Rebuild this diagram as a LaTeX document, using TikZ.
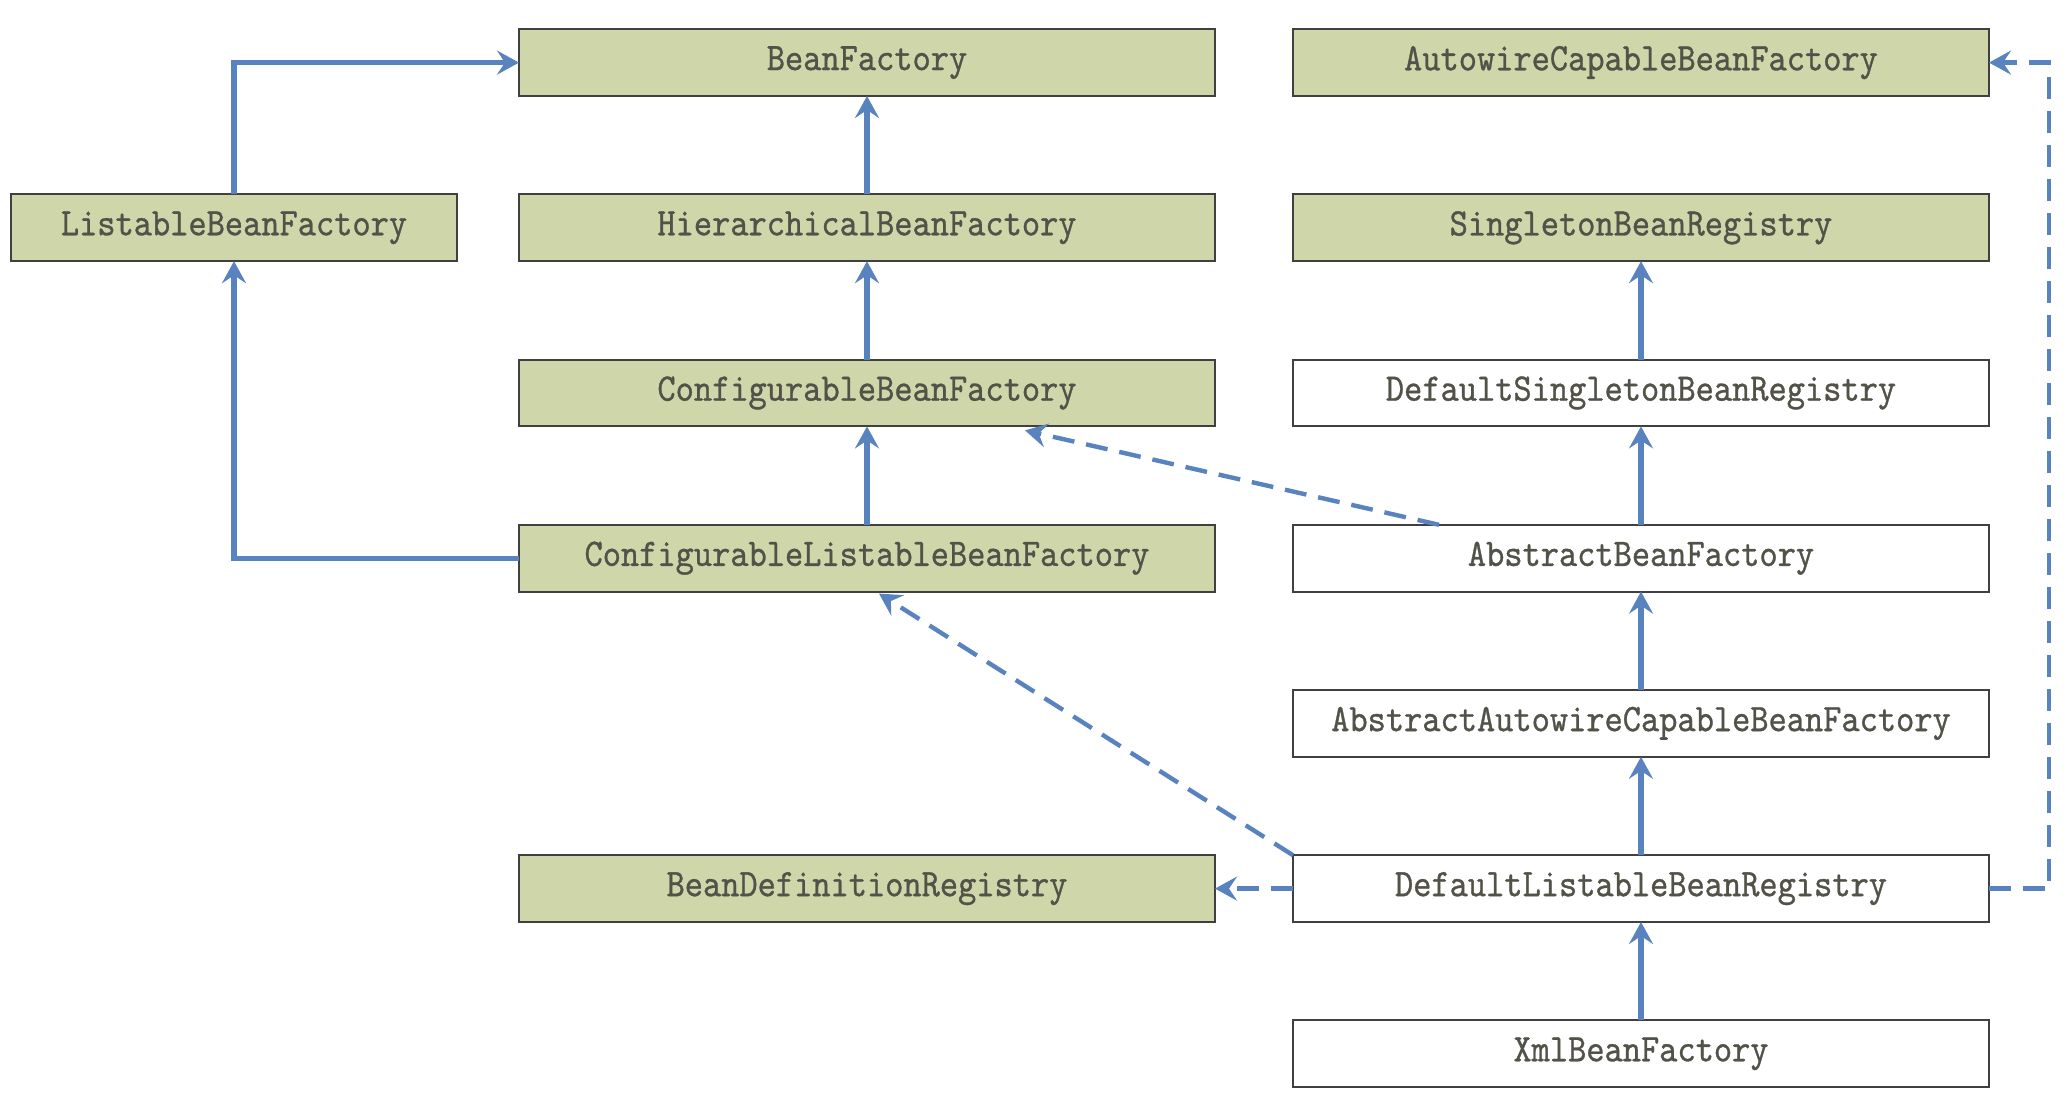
\documentclass[tikz,border=0pt]{standalone}
\usepackage{fontspec}
\usepackage{xcolor}
\usepackage{tikz}
\usetikzlibrary{positioning, arrows.meta, calc}

\newfontfamily\classfont{lmmono10-regular.otf}[FakeStretch=0.89,FakeBold=0.8]
\definecolor{ifacegreen}{RGB}{206,214,170}
\definecolor{linkblue}{RGB}{88,131,190}
\definecolor{labelgray}{RGB}{82,82,72}

\begin{document}
\begin{tikzpicture}[
        node distance=49.2pt,
        iface/.style={
            rectangle,
            draw=black!75,
            line width=1pt,
            fill=ifacegreen,
            text=labelgray,
            font=\classfont\fontsize{19.5}{22}\selectfont,
            minimum width=348pt,
            minimum height=33.4pt,
            inner sep=0pt,
            outer sep=0pt
        },
        klass/.style={
            iface,
            fill=white
        },
        extends/.style={
            draw=linkblue,
            line width=2.6pt,
            -{Stealth[length=11pt,width=12pt,inset=4pt]}
        },
        implements/.style={
            extends,
            line width=2.2pt,
            dash pattern=on 11pt off 6pt
        }
    ]
        \useasboundingbox (0,0) rectangle (1034pt,-549pt);

        % Interfaces
        \node[iface, anchor=north west] (bf) at (259.5pt,-14.6pt) {BeanFactory};
        \node[iface, below=of bf] (hbf) {HierarchicalBeanFactory};
        \node[iface, below=of hbf] (cbf) {ConfigurableBeanFactory};
        \node[iface, below=of cbf] (clbf) {ConfigurableListableBeanFactory};
        \node[iface, minimum width=223pt, left=31pt of hbf] (lbf) {ListableBeanFactory};
        \node[iface, right=39pt of bf] (acbf) {AutowireCapableBeanFactory};
        \node[iface, below=of acbf] (sbr) {SingletonBeanRegistry};

        % Classes
        \node[klass, below=of sbr] (dsbr) {DefaultSingletonBeanRegistry};
        \node[klass, below=of dsbr] (abf) {AbstractBeanFactory};
        \node[klass, below=of abf] (aacbf) {AbstractAutowireCapableBeanFactory};
        \node[klass, below=of aacbf] (dlbr) {DefaultListableBeanRegistry};
        \node[klass, below=of dlbr] (xbf) {XmlBeanFactory};
        \node[iface, left=39pt of dlbr] (bdr) {BeanDefinitionRegistry};

        % Inheritance
        \draw[extends] (lbf.north) |- (bf.west);
        \draw[extends] (hbf) -- (bf);
        \draw[extends] (cbf) -- (hbf);
        \draw[extends] (clbf) -- (cbf);
        \draw[extends] (clbf.west) -| (lbf.south);
        \draw[extends] (dsbr) -- (sbr);
        \draw[extends] (abf) -- (dsbr);
        \draw[extends] (aacbf) -- (abf);
        \draw[extends] (dlbr) -- (aacbf);
        \draw[extends] (xbf) -- (dlbr);

        % Implementation
        \draw[implements] ($(abf.north west)+(73pt,0)$) -- ($(cbf.south west)+(253pt,-2pt)$);
        \draw[implements] (dlbr.north west) -- ($(clbf.south)+(6pt,-1pt)$);
        \draw[implements] (dlbr.west) -- (bdr.east);
        \draw[implements] (dlbr.east) -- ++(30pt,0) |- (acbf.east);

    \end{tikzpicture}
\end{document}
